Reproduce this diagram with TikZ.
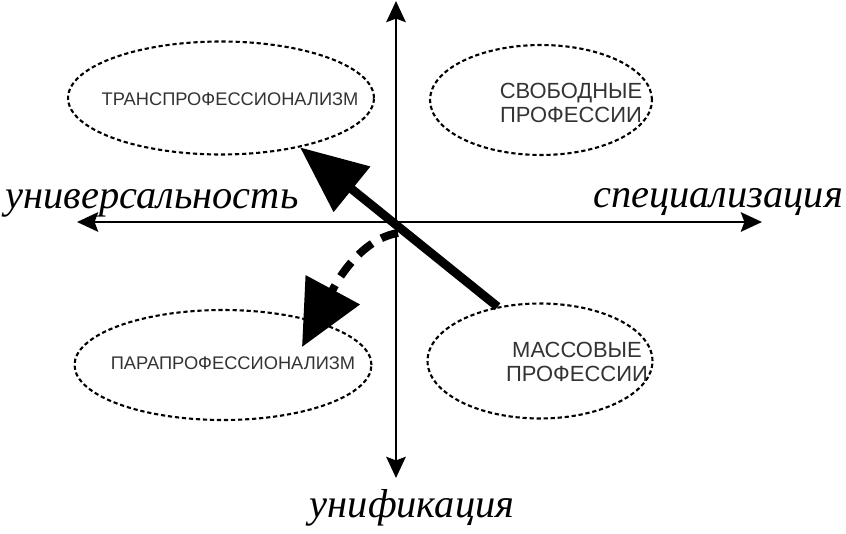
\documentclass[tikz,border=0pt]{standalone}
\usepackage{fontspec}
\setmainfont{Liberation Serif}
\setsansfont{Liberation Sans}
\usetikzlibrary{arrows.meta,shapes.geometric}

\begin{document}
\begin{tikzpicture}[x=0.02cm,y=-0.02cm,
    axis/.style={line width=1.7pt,{Stealth[length=12pt,width=11pt,inset=2pt]}-{Stealth[length=12pt,width=11pt,inset=2pt]}},
    field/.style={ellipse,draw,line width=1.2pt,dash pattern=on 2.4pt off 1.6pt,inner sep=0pt},
    tag/.style={font=\sffamily,text=black!80,align=center},
    word/.style={font=\itshape\fontsize{23}{27}\selectfont,anchor=base},
    move/.style={line width=5pt,-{Triangle[length=38pt,width=32pt]}},
    turn/.style={line width=4.5pt,dash pattern=on 10pt off 6pt,-{Triangle[length=37pt,width=34pt]}}]
        \useasboundingbox (0,0) rectangle (846,534);
        % axes
        \coordinate (w) at (77,222);
        \coordinate (e) at (762,222);
        \coordinate (n) at (396,1);
        \coordinate (s) at (396,478);
        \draw[axis] (w) -- (e);
        \draw[axis] (n) -- (s);
        \node[word] (univ) at (152,208) {универсальность};
        \node[word] (spec) at (718,207) {специализация};
        \node[word] (unif) at (412,517) {унификация};
        % quadrants
        \node[field,minimum width=6.12cm,minimum height=2.26cm] (trans) at (221,98) {};
        \node[field,minimum width=4.44cm,minimum height=2.2cm] (free) at (541,100) {};
        \node[field,minimum width=5.94cm,minimum height=2.2cm] (para) at (223,365) {};
        \node[field,minimum width=4.5cm,minimum height=2.3cm] (mass) at (540,361) {};
        \node[tag,font=\sffamily\fontsize{10.4}{12}\selectfont] (transtext) at (230,99) {ТРАНСПРОФЕССИОНАЛИЗМ};
        \node[tag,font=\sffamily\fontsize{12.5}{14}\selectfont] (freetext) at (571,103) {СВОБОДНЫЕ\\ПРОФЕССИИ};
        \node[tag,font=\sffamily\fontsize{10.4}{12}\selectfont] (paratext) at (233,363) {ПАРАПРОФЕССИОНАЛИЗМ};
        \node[tag,font=\sffamily\fontsize{12.5}{14}\selectfont] (masstext) at (577,362) {МАССОВЫЕ\\ПРОФЕССИИ};
        % shifts
        \draw[move] (mass.128) -- (trans.-32);
        \coordinate (start) at (398,233);
        \coordinate (end) at (302,347);
        \draw[turn] (start) .. controls (355,240) and (330,295) .. (end);
    \end{tikzpicture}
\end{document}
